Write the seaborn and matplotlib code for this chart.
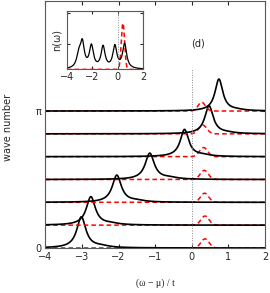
import numpy as np
import pandas as pd
import matplotlib
matplotlib.use("Agg")
import matplotlib.pyplot as plt
import seaborn as sns

# ─────────────────────────────────────────────
# data
# ─────────────────────────────────────────────
WAVE_NUMBERS = [i * np.pi / 6 for i in range(7)]          # 0 ... pi, one curve each

PEAK_POS    = [-3.02, -2.76, -2.05, -1.15, -0.20, 0.47, 0.74]
PEAK_HEIGHT = [0.71, 0.65, 0.62, 0.60, 0.62, 0.64, 0.73]
PEAK_WIDTH  = [0.15, 0.15, 0.15, 0.15, 0.14, 0.14, 0.13]
HUMP_SHIFT  = [0.55, 0.55, 0.55, 0.55, 0.50, 0.50, 0.50]   # weak shoulder right of the peak
HUMP_HEIGHT = [0.035, 0.03, 0.03, 0.035, 0.03, 0.02, 0.02]

RED_POS    = [0.36, 0.36, 0.35, 0.34, 0.32, 0.30, 0.27]
RED_HEIGHT = [0.21, 0.21, 0.21, 0.21, 0.21, 0.20, 0.20]
RED_WIDTH  = [0.11, 0.11, 0.11, 0.11, 0.11, 0.11, 0.10]

# inset n(omega)
INSET_POS    = [-3.07, -2.79, -2.07, -1.15, -0.22, 0.55]
INSET_HEIGHT = [0.42, 0.85, 0.76, 0.74, 0.76, 0.84]
INSET_WIDTH  = 0.19
INSET_RED_POS, INSET_RED_HEIGHT, INSET_RED_WIDTH = 0.42, 1.58, 0.13

X_TICKS = [-4, -3, -2, -1, 0, 1, 2]
Y_TICKS = [0, np.pi]
Y_TICK_LABELS = ["0", "π"]


def lorentz(x, x0, h, g):
    return h / (1.0 + ((x - x0) / g) ** 2)


def gauss(x, x0, h, s):
    return h * np.exp(-0.5 * ((x - x0) / s) ** 2)


# ─────────────────────────────────────────────
# figure
# ─────────────────────────────────────────────
sns.set_style("ticks")
plt.rcParams.update({
    "font.family": ["DejaVu Sans"],
    "font.size": 7,
    "xtick.direction": "in",
    "ytick.direction": "in",
    "xtick.top": True,
    "ytick.right": True,
    "xtick.major.size": 3,
    "ytick.major.size": 3,
    "axes.edgecolor": "0.35",
    "axes.linewidth": 0.8,
})

fig = plt.figure(figsize=(2.70, 2.93), dpi=100)
ax = fig.add_axes([0.1685, 0.1536, 0.813, 0.843])

omega = np.linspace(-4, 2, 1201)

for i, q in enumerate(WAVE_NUMBERS):
    red = q + gauss(omega, RED_POS[i], RED_HEIGHT[i], RED_WIDTH[i])
    black = (q + lorentz(omega, PEAK_POS[i], PEAK_HEIGHT[i], PEAK_WIDTH[i])
             + lorentz(omega, PEAK_POS[i] + HUMP_SHIFT[i], HUMP_HEIGHT[i], 0.25))
    sns.lineplot(x=omega, y=red, ax=ax, color="red", lw=1.1, sort=False,
                 errorbar=None, linestyle=(0, (3, 2)))
    sns.lineplot(x=omega, y=black, ax=ax, color="black", lw=1.2, sort=False,
                 errorbar=None)

ax.plot([0, 0], [0, 4.13], color="0.55", lw=0.7, ls=(0, (1, 1.5)))
ax.text(0.16, 4.68, "(d)", ha="center", va="center", fontsize=7)

ax.set_xlim(-4, 2)
ax.set_ylim(0, 5.665)
ax.set_xticks(X_TICKS)
ax.set_xticklabels([str(t).replace("-", "−") for t in X_TICKS])
ax.set_yticks(Y_TICKS)
ax.set_yticklabels(Y_TICK_LABELS)
ax.tick_params(labelsize=7, pad=3)
ax.set_xlabel("(ω − μ) / t", fontsize=7, family=["Liberation Serif"])
ax.xaxis.set_label_coords(0.5, -0.125)
ax.set_ylabel("wave number", fontsize=7)
ax.yaxis.set_label_coords(-0.15, 0.49)

# ─────────────────────────────────────────────
# inset
# ─────────────────────────────────────────────
ins = fig.add_axes([0.248, 0.763, 0.2815, 0.20])
n_black = sum(lorentz(omega, p, h, INSET_WIDTH) for p, h in zip(INSET_POS, INSET_HEIGHT))
n_red = gauss(omega, INSET_RED_POS, INSET_RED_HEIGHT, INSET_RED_WIDTH)
sns.lineplot(x=omega, y=n_red, ax=ins, color="red", lw=1.1, sort=False,
             errorbar=None, linestyle=(0, (3, 2)))
sns.lineplot(x=omega, y=n_black, ax=ins, color="black", lw=0.9, sort=False,
             errorbar=None)
ins.plot([0, 0], [0, 2], color="0.55", lw=0.7, ls=(0, (1, 1.5)))
ins.set_xlim(-4, 2)
ins.set_ylim(0, 2)
ins.set_xticks([-4, -2, 0, 2])
ins.set_xticklabels(["−4", "−2", "0", "2"])
ins.set_yticks([0.87, 1.93])
ins.set_yticklabels([])
ins.tick_params(labelsize=7, pad=2, length=2.5)
ins.set_ylabel("n(ω)", fontsize=7, labelpad=2)

fig.savefig("out.png", dpi=100)
